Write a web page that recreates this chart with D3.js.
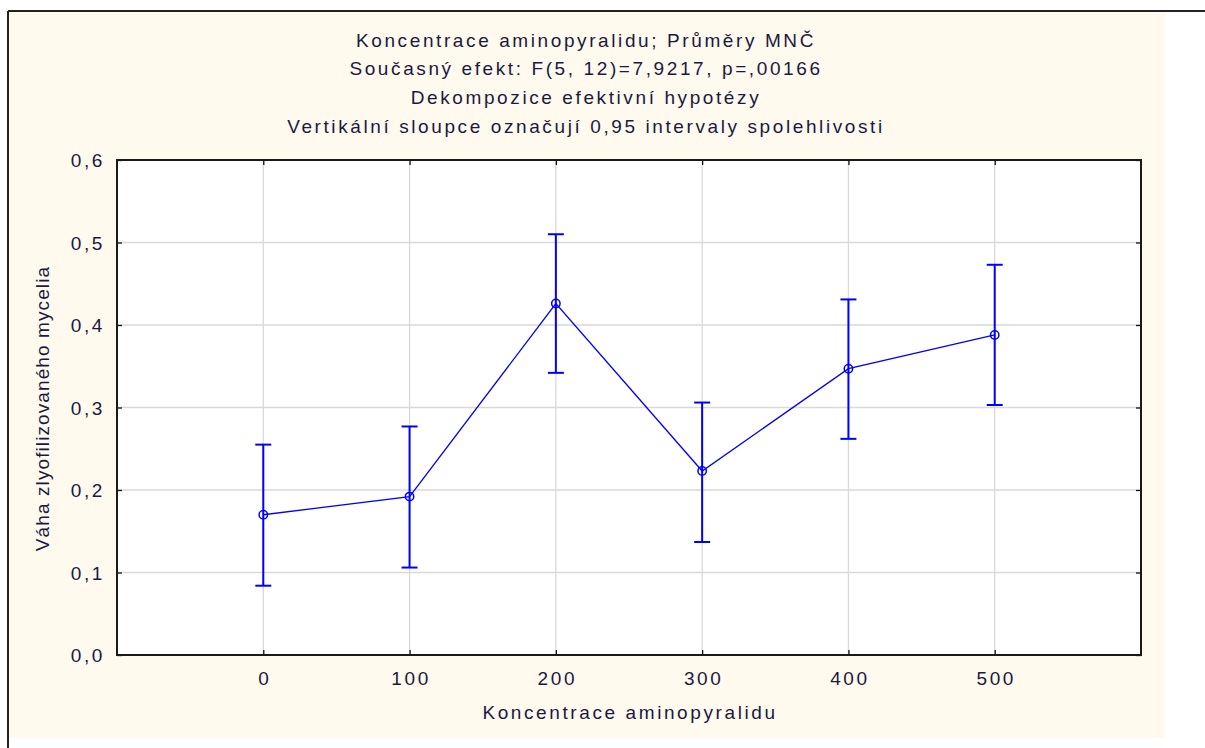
<!DOCTYPE html>
<html><head><meta charset="utf-8">
<script src="https://cdn.jsdelivr.net/npm/d3@7"></script>
<style>body{margin:0;background:#fff;} svg{display:block;} text{font-family:"Liberation Sans",Arial,sans-serif;fill:#1a1a40;}</style>
</head><body>
<svg id="c" width="1205" height="748"></svg>
<script>
const categories = [0, 100, 200, 300, 400, 500];
const means = [0.170, 0.192, 0.426, 0.223, 0.347, 0.388];
const upper = [0.255, 0.277, 0.510, 0.306, 0.431, 0.473];
const lower = [0.084, 0.106, 0.342, 0.137, 0.262, 0.303];
const yTicks = [0, 0.1, 0.2, 0.3, 0.4, 0.5, 0.6];
const titleLines = [
  "Koncentrace aminopyralidu; Průměry MNČ",
  "Současný efekt: F(5, 12)=7,9217, p=,00166",
  "Dekompozice efektivní hypotézy",
  "Vertikální sloupce označují 0,95 intervaly spolehlivosti"
];
const xLabel = "Koncentrace aminopyralidu";
const yLabel = "Váha zlyofilizovaného mycelia";

const svg = d3.select("#c");
// background panel
svg.append("rect").attr("x", 9).attr("y", 12).attr("width", 1156).attr("height", 726).attr("fill", "#fff9ee");
svg.append("line").attr("x1", 8).attr("x2", 1205).attr("y1", 11).attr("y2", 11).attr("stroke", "#222").attr("stroke-width", 2);
svg.append("line").attr("x1", 8).attr("x2", 8).attr("y1", 11).attr("y2", 748).attr("stroke", "#222").attr("stroke-width", 2);

const L = 117, R = 1141, T = 160, B = 655;
const x = d3.scaleLinear().domain([-100, 600]).range([L, R]);
const y = d3.scaleLinear().domain([0, 0.6]).range([B, T]);

svg.append("rect").attr("x", L).attr("y", T).attr("width", R - L).attr("height", B - T).attr("fill", "#fff");

// gridlines
svg.append("g").selectAll("line").data(yTicks.slice(1, -1)).join("line")
  .attr("x1", L).attr("x2", R).attr("y1", d => y(d)).attr("y2", d => y(d))
  .attr("stroke", "#d9d9d9").attr("stroke-width", 1.3);
svg.append("g").selectAll("line").data(categories).join("line")
  .attr("x1", d => x(d)).attr("x2", d => x(d)).attr("y1", T).attr("y2", B)
  .attr("stroke", "#d9d9d9").attr("stroke-width", 1.3);

const TS = "19px", LS = "2.6px";

// axes (inner ticks)
const axL = d3.axisLeft(y).tickValues(yTicks).tickSize(-5).tickFormat(d => d3.format(".1f")(d).replace(".", ","));
const gL = svg.append("g").attr("transform", `translate(${L},0)`).call(axL);
gL.select(".domain").remove();
gL.selectAll("line").attr("stroke", "#111").attr("stroke-width", 1.3);
gL.selectAll("text").attr("x", -12).attr("dy", "0.35em").style("font-size", TS).style("letter-spacing", LS).style("fill", "#1a1a40").attr("font-family", null);

const axR = d3.axisRight(y).tickValues(yTicks).tickSize(-5).tickFormat("");
const gR = svg.append("g").attr("transform", `translate(${R},0)`).call(axR);
gR.select(".domain").remove();
gR.selectAll("line").attr("stroke", "#111").attr("stroke-width", 1.3);

const axB = d3.axisBottom(x).tickValues(categories).tickSize(-5).tickFormat(d3.format("d"));
const gB = svg.append("g").attr("transform", `translate(0,${B})`).call(axB);
gB.select(".domain").remove();
gB.selectAll("line").attr("stroke", "#111").attr("stroke-width", 1.3);
gB.selectAll("text").attr("y", 23).attr("dy", "0.35em").attr("dx", 1).style("font-size", TS).style("letter-spacing", LS).style("fill", "#1a1a40").attr("font-family", null);

const axT = d3.axisTop(x).tickValues(categories).tickSize(-5).tickFormat("");
const gT = svg.append("g").attr("transform", `translate(0,${T})`).call(axT);
gT.select(".domain").remove();
gT.selectAll("line").attr("stroke", "#111").attr("stroke-width", 1.3);

// frame
svg.append("rect").attr("x", L).attr("y", T).attr("width", R - L).attr("height", B - T)
  .attr("fill", "none").attr("stroke", "#1a1a1a").attr("stroke-width", 2);

// error bars
const eb = svg.append("g").attr("stroke", "#0000ff").attr("stroke-width", 2);
categories.forEach((c, i) => {
  eb.append("line").attr("x1", x(c)).attr("x2", x(c)).attr("y1", y(upper[i])).attr("y2", y(lower[i]));
  eb.append("line").attr("x1", x(c) - 8).attr("x2", x(c) + 8).attr("y1", y(upper[i])).attr("y2", y(upper[i]));
  eb.append("line").attr("x1", x(c) - 8).attr("x2", x(c) + 8).attr("y1", y(lower[i])).attr("y2", y(lower[i]));
});

// mean line
const pts = categories.map((c, i) => [c, means[i]]);
svg.append("path").datum(pts)
  .attr("d", d3.line().x(d => x(d[0])).y(d => y(d[1])))
  .attr("fill", "none").attr("stroke", "#0000ff").attr("stroke-width", 1.3);
svg.append("g").selectAll("circle").data(pts).join("circle")
  .attr("cx", d => x(d[0])).attr("cy", d => y(d[1])).attr("r", 4.2)
  .attr("fill", "none").attr("stroke", "#0000ff").attr("stroke-width", 1.5);

// titles
svg.append("g").selectAll("text").data(titleLines).join("text")
  .attr("x", 586).attr("y", (d, i) => 40 + i * 28.7).attr("dy", "0.35em")
  .attr("text-anchor", "middle").style("font-size", TS).style("letter-spacing", LS).text(d => d);

svg.append("text").attr("x", x(250) + 1).attr("y", 712).attr("dy", "0.35em")
  .attr("text-anchor", "middle").style("font-size", TS).style("letter-spacing", LS).text(xLabel);
svg.append("text").attr("transform", `translate(42,${(T + B) / 2 + 1}) rotate(-90)`).attr("dy", "0.35em")
  .attr("text-anchor", "middle").style("font-size", TS).style("letter-spacing", "1.1px").text(yLabel);
</script>
</body></html>
